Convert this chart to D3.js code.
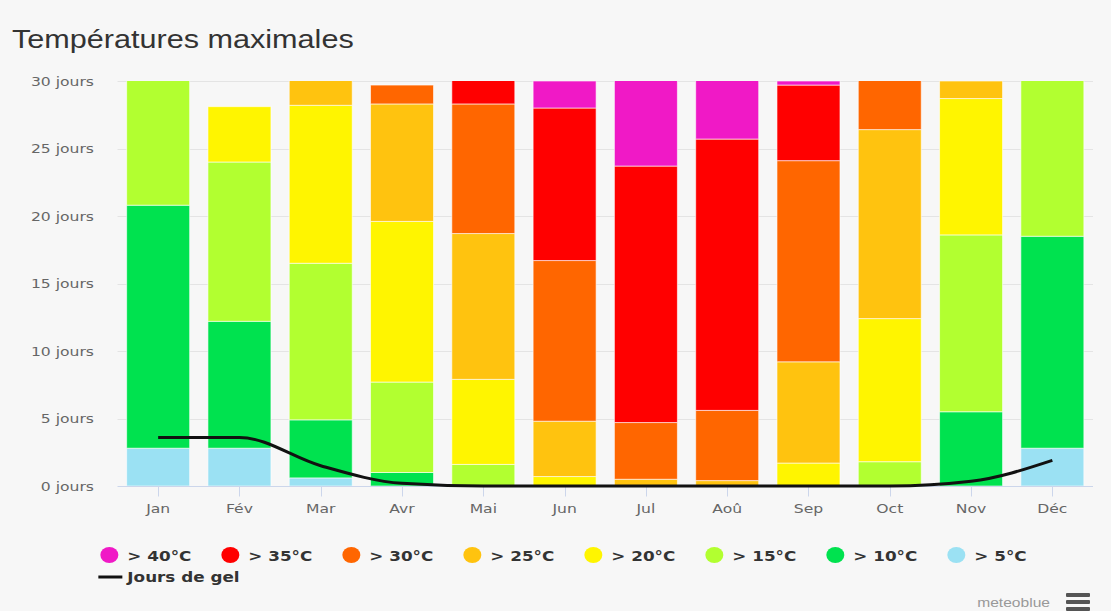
<!DOCTYPE html>
<html>
<head>
<meta charset="utf-8">
<script src="https://cdn.jsdelivr.net/npm/d3@7"></script>
<style>
  body { margin: 0; background: #f7f7f7; }
  svg { display: block; }
</style>
</head>
<body>
<div id="chart"></div>
<script>
// data (days per month, coolest class at the bottom)
var months = ['Jan', 'Fév', 'Mar', 'Avr', 'Mai', 'Jun', 'Jul', 'Aoû', 'Sep', 'Oct', 'Nov', 'Déc']
var gt5  = [2.8, 2.8, 0.6, 0,   0,    0,    0,    0,    0,    0,    0,    2.8]
var gt10 = [18.0, 9.4, 4.3, 1.0, 0,   0,    0,    0,    0,    0,    5.5,  15.7]
var gt15 = [10.2, 11.8, 11.6, 6.7, 1.6, 0,  0,    0,    0,    1.8,  13.1, 12.5]
var gt20 = [0,   4.1, 11.7, 11.9, 6.3, 0.7,  0,    0,    1.7,  10.6, 10.1, 0]
var gt25 = [0,   0,   2.8, 8.7,  10.8, 4.1,  0.5,  0.4,  7.5,  14.0, 1.3,  0]
var gt30 = [0,   0,   0,   1.4,  9.6,  11.9, 4.2,  5.2,  14.9, 4.6,  0,    0]
var gt35 = [0,   0,   0,   0,    2.7,  11.3, 19.0, 20.1, 5.6,  0,    0,    0]
var gt40 = [0,   0,   0,   0,    0,    2.0,  7.3,  5.3,  0.3,  0,    0,    0]
var frost = [3.6, 3.6, 1.5, 0.2, 0, 0, 0, 0, 0, 0, 0.35, 1.9]
var yTicks = [0, 5, 10, 15, 20, 25, 30]

var seriesNames = ['> 40°C', '> 35°C', '> 30°C', '> 25°C', '> 20°C', '> 15°C', '> 10°C', '> 5°C']
var seriesColors = ['#f019c6', '#ff0000', '#ff6600', '#ffc30f', '#fff500', '#b2ff30', '#00e24f', '#9be1f3']
var seriesValues = [gt40, gt35, gt30, gt25, gt20, gt15, gt10, gt5]

var width = 1111
var height = 611
var SX = 1.2   // the picture is a bit wider than tall, text looks stretched
var margin = { left: 117.5, right: 18, top: 81, bottom: 125 }

var svg = d3.select('#chart')
  .append('svg')
  .attr('width', width)
  .attr('height', height)
  .style('background', '#f7f7f7')

function place(sel, x, y) {
  return sel.attr('transform', 'translate(' + x + ',' + y + ') scale(' + SX + ',1)')
}

// title
place(svg.append('text'), 12, 48)
  .text('Températures maximales')
  .attr('font-family', 'Liberation Sans, Arial, sans-serif')
  .attr('font-size', 25.5)
  .attr('fill', '#333')

var x = d3.scaleBand()
  .domain(months)
  .range([margin.left, width - margin.right])
  .paddingInner(0.225)
  .paddingOuter(0.1125)

var y = d3.scaleLinear()
  .domain([0, 30])
  .range([height - margin.bottom, margin.top])

// grid
svg.append('g')
  .selectAll('line')
  .data(yTicks.slice(1))
  .enter()
  .append('line')
  .attr('x1', margin.left)
  .attr('x2', width - margin.right)
  .attr('y1', function (d) { return Math.round(y(d)) + 0.5 })
  .attr('y2', function (d) { return Math.round(y(d)) + 0.5 })
  .attr('stroke', '#e4e4e4')

// y labels
svg.append('g')
  .selectAll('text')
  .data(yTicks)
  .enter()
  .append('text')
  .each(function (d) { place(d3.select(this), 94, y(d) + 4.5) })
  .attr('text-anchor', 'end')
  .attr('font-family', 'DejaVu Sans, sans-serif')
  .attr('font-size', 13)
  .attr('fill', '#666')
  .text(function (d) { return d + ' jours' })

// stacked bars
var table = months.map(function (m, i) {
  var row = { month: m }
  seriesNames.forEach(function (n, k) { row[n] = seriesValues[k][i] })
  return row
})
var stack = d3.stack().keys(seriesNames.slice().reverse())
var layers = stack(table)
var color = d3.scaleOrdinal().domain(seriesNames).range(seriesColors)

svg.append('clipPath')
  .attr('id', 'plot')
  .append('rect')
  .attr('x', margin.left)
  .attr('y', margin.top)
  .attr('width', width - margin.left - margin.right)
  .attr('height', height - margin.top - margin.bottom)

var bars = svg.append('g').attr('clip-path', 'url(#plot)')
bars.selectAll('g')
  .data(layers)
  .enter()
  .append('g')
  .attr('fill', function (d) { return color(d.key) })
  .selectAll('rect')
  .data(function (d) { return d.filter(function (s) { return s[1] - s[0] > 0 }) })
  .enter()
  .append('rect')
  .attr('x', function (d) { return x(d.data.month) })
  .attr('width', x.bandwidth())
  .attr('y', function (d) { return y(d[1]) })
  .attr('height', function (d) { return y(d[0]) - y(d[1]) })
  .attr('stroke', '#ffffff')
  .attr('stroke-opacity', 0.6)
  .attr('stroke-width', 1)

// x axis
var base = Math.round(y(0)) + 0.5
svg.append('line')
  .attr('x1', margin.left)
  .attr('x2', width - margin.right)
  .attr('y1', base)
  .attr('y2', base)
  .attr('stroke', '#ccd6eb')

svg.append('g')
  .selectAll('line')
  .data(months)
  .enter()
  .append('line')
  .attr('x1', function (d) { return Math.round(x(d) + x.bandwidth() / 2) + 0.5 })
  .attr('x2', function (d) { return Math.round(x(d) + x.bandwidth() / 2) + 0.5 })
  .attr('y1', base)
  .attr('y2', base + 10)
  .attr('stroke', '#ccd6eb')

svg.append('g')
  .selectAll('text')
  .data(months)
  .enter()
  .append('text')
  .each(function (d) { place(d3.select(this), x(d) + x.bandwidth() / 2, 513) })
  .attr('text-anchor', 'middle')
  .attr('font-family', 'DejaVu Sans, sans-serif')
  .attr('font-size', 13)
  .attr('fill', '#666')
  .text(function (d) { return d })

// frost days line
var line = d3.line()
  .x(function (d, i) { return x(months[i]) + x.bandwidth() / 2 })
  .y(function (d) { return y(d) })
  .curve(d3.curveMonotoneX)

svg.append('path')
  .datum(frost)
  .attr('d', line)
  .attr('fill', 'none')
  .attr('stroke', '#111')
  .attr('stroke-width', 3)
  .attr('stroke-linejoin', 'round')

// legend
var legend = svg.append('g')
var items = legend.selectAll('g')
  .data(seriesNames)
  .enter()
  .append('g')

items.append('ellipse')
  .attr('rx', 9)
  .attr('ry', 8)
  .attr('cx', 9)
  .attr('cy', 0)
  .attr('fill', function (d) { return color(d) })

items.append('text')
  .each(function () { place(d3.select(this), 27, 5.5) })
  .attr('font-family', 'DejaVu Sans, sans-serif')
  .attr('font-weight', 'bold')
  .attr('font-size', 14)
  .attr('fill', '#333')
  .text(function (d) { return d })

var widths = []
items.select('text').each(function () { widths.push(27 + this.getComputedTextLength() * SX) })
var gap = 30
var total = d3.sum(widths) + gap * (widths.length - 1)
var startX = width / 2 + 8 - total / 2
var cursor = startX
items.attr('transform', function (d, i) {
  var t = 'translate(' + cursor + ',555)'
  cursor += widths[i] + gap
  return t
})

var gel = legend.append('g').attr('transform', 'translate(' + (startX - 2) + ',577)')
gel.append('line')
  .attr('x1', 0)
  .attr('x2', 24)
  .attr('stroke', '#111')
  .attr('stroke-width', 3)
place(gel.append('text'), 29, 5)
  .attr('font-family', 'DejaVu Sans, sans-serif')
  .attr('font-weight', 'bold')
  .attr('font-size', 14)
  .attr('fill', '#333')
  .text('Jours de gel')

// credit + menu icon
place(svg.append('text'), 1050, 607)
  .attr('text-anchor', 'end')
  .attr('font-family', 'Liberation Sans, Arial, sans-serif')
  .attr('font-size', 13)
  .attr('fill', '#999')
  .text('meteoblue')

svg.append('g')
  .selectAll('rect')
  .data([0, 1, 2])
  .enter()
  .append('rect')
  .attr('x', 1066)
  .attr('y', function (d) { return 593 + d * 7 })
  .attr('width', 24)
  .attr('height', 4)
  .attr('rx', 1)
  .attr('fill', '#555')
</script>
</body>
</html>
